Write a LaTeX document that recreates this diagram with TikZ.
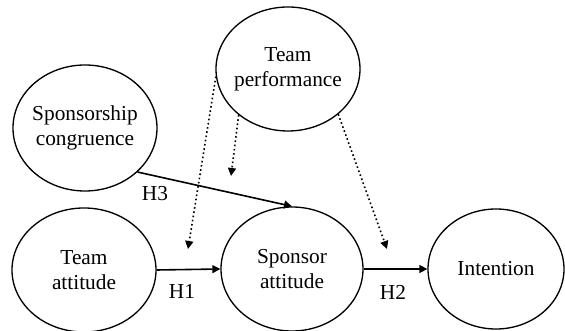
\documentclass[tikz,border=0pt]{standalone}
\usepackage{fontspec}
\setmainfont{Liberation Serif}
\usetikzlibrary{shapes.geometric,arrows.meta}

\tikzset{every picture/.style={line width=0.75pt}}
\tikzset{
	construct/.style={draw, ellipse, line width=1pt, inner xsep=-4pt, inner ysep=0pt, align=center, font=\fontsize{16}{18.75}\selectfont},
	path arrow/.style={-{Triangle[length=6pt,width=6pt]}, line width=1.2pt},
	moderator arrow/.style={-{Triangle[length=6pt,width=6pt]}, line width=1.2pt, dotted},
	hyp label/.style={inner sep=0.75pt, font=\fontsize{16}{18.75}\selectfont}}

\begin{document}
\begin{tikzpicture}[x=0.75pt,y=0.75pt,yscale=-1,xscale=1]
	\useasboundingbox (0,0) rectangle (565,331);
	
	% Constructs
	\node [construct, minimum width=108pt, minimum height=93pt] (perf) at (288,69) {Team\\performance};
	\node [construct, minimum width=108pt, minimum height=94.5pt] (cong) at (85,128) {Sponsorship\\congruence};
	\node [construct, minimum width=108pt, minimum height=93pt] (teamatt) at (84,270) {Team\\attitude};
	\node [construct, minimum width=106.5pt, minimum height=93pt] (sponsatt) at (292,269) {Sponsor\\attitude};
	\node [construct, minimum width=102pt, minimum height=90pt] (intent) at (496,269) {Intention};
	
	% Free ends of the moderating arrows
	\coordinate (modH1) at (188,249);
	\coordinate (modH3) at (231,176);
	\coordinate (modH2) at (387,249);
	
	% Direct paths
	\draw [path arrow] (teamatt.east) -- (sponsatt.west);
	\draw [path arrow] (sponsatt.east) -- (intent.west);
	\draw [path arrow] (cong.320) -- (sponsatt.north);
	
	% Moderating paths
	\draw [moderator arrow] (perf.186) -- (modH1);
	\draw [moderator arrow] (perf.223) -- (modH3);
	\draw [moderator arrow] (perf.318) -- (modH2);
	
	% Hypothesis labels
	\node [hyp label] (h1) at (182,291) {H1};
	\node [hyp label] (h2) at (393,292) {H2};
	\node [hyp label] (h3) at (155,194) {H3};
	
\end{tikzpicture}
\end{document}
